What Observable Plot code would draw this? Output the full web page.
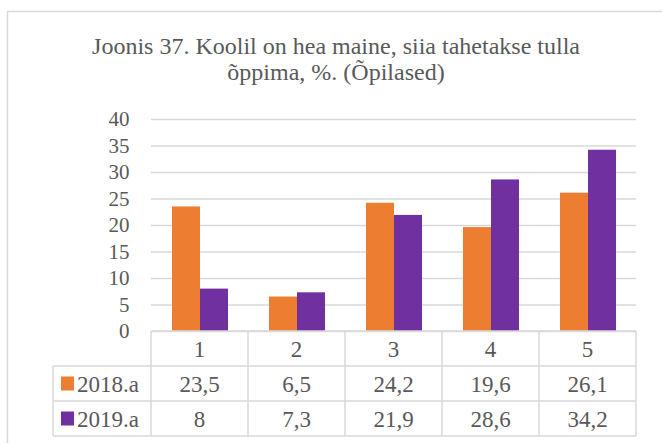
<!DOCTYPE html>
<html><head><meta charset="utf-8">
<script src="https://cdn.jsdelivr.net/npm/d3@7"></script>
<script src="https://cdn.jsdelivr.net/npm/@observablehq/plot@0.6"></script>
<style>
body{margin:0;background:#fff}
#chart{position:relative;width:662px;height:443px;overflow:hidden}
</style>
</head><body><div id="chart"></div>
<script>
const categories = ["1","2","3","4","5"];
const series = ["2018.a","2019.a"];
const values2018 = [23.5,6.5,24.2,19.6,26.1];
const values2019 = [8,7.3,21.9,28.6,34.2];
const yTicks = [0,5,10,15,20,25,30,35,40];
const colors = ["#ED7D31","#7030A0"];
const titleLines = ["Joonis 37. Koolil on hea maine, siia tahetakse tulla","õppima, %. (Õpilased)"];

const valuesBySeries = [values2018, values2019];
const data = categories.flatMap((c,i)=>series.map((s,j)=>({cat:c, series:s, value:valuesBySeries[j][i]})));
const fmt = v => String(v).replace(".", ",");

// pick an installed serif font
const ctx = document.createElement("canvas").getContext("2d");
function available(name) {
  const s = "Joonis 37. Koolil on hea maine";
  ctx.font = "40px monospace"; const a = ctx.measureText(s).width;
  ctx.font = `40px "${name}", monospace`; const b = ctx.measureText(s).width;
  return Math.abs(a - b) > 0.5;
}
const candidates = ["Liberation Serif", "Times New Roman", "Tinos", "DejaVu Serif", "Noto Serif"];
const chosen = candidates.find(available);
const font = chosen ? `"${chosen}", serif` : "serif";
const textColor = "#595959";
const lineColor = "#d9d9d9";
const W = 662, H = 443;

const chart = Plot.plot({
  width: W, height: H,
  marginLeft: 150, marginRight: 26, marginTop: 119, marginBottom: 112,
  style: {fontFamily: font, fontSize: "21px", color: textColor, background: "#fff", overflow: "visible"},
  fx: {domain: categories, paddingInner: 0, paddingOuter: 0, axis: null, label: null},
  x: {domain: series, paddingInner: 0, paddingOuter: 0.68, axis: null, label: null},
  y: {domain: [0, 40], label: null},
  color: {domain: series, range: colors},
  marks: [
    Plot.gridY(yTicks, {stroke: lineColor, strokeOpacity: 1, strokeWidth: 1.5}),
    Plot.axisY(yTicks, {tickSize: 0, tickPadding: 22, fontSize: 21, fill: textColor, label: null, anchor: "left"}),
    Plot.barY(data, {fx: "cat", x: "series", y: "value", fill: "series"})
  ]
});

document.getElementById("chart").appendChild(chart);

const svg = d3.select(chart);
svg.attr("font-family", font).style("font-family", font);
const fx = chart.scale("fx");
const bw = fx.bandwidth;
const x0 = fx.apply(categories[0]);
const x1 = fx.apply(categories[categories.length-1]) + bw;

// outer chart border
svg.insert("rect", ":first-child")
  .attr("x", 7.5).attr("y", 11.5).attr("width", 700).attr("height", 500)
  .attr("fill", "#fff").attr("stroke", lineColor).attr("stroke-width", 1.5);

// title
const title = svg.append("text").attr("text-anchor", "middle")
  .style("font-family", font).attr("font-size", 24).attr("fill", textColor);
titleLines.forEach((t, i) => title.append("tspan").attr("x", 336).attr("y", 54 + i*26).text(t));

// data table
const rowTop = [331, 366, 401, 436];
const legendLeft = 53;
const g = svg.append("g").style("font-family", font).attr("font-size", 23).attr("fill", textColor);
const lines = g.append("g").attr("stroke", lineColor).attr("stroke-width", 1.5);
lines.append("line").attr("x1", x0).attr("x2", x1).attr("y1", rowTop[0]).attr("y2", rowTop[0]);
for (let r = 1; r < rowTop.length; r++) {
  lines.append("line").attr("x1", legendLeft).attr("x2", x1).attr("y1", rowTop[r]).attr("y2", rowTop[r]);
}
categories.forEach(c => {
  lines.append("line").attr("x1", fx.apply(c)).attr("x2", fx.apply(c)).attr("y1", rowTop[0]).attr("y2", rowTop[3]);
});
lines.append("line").attr("x1", x1).attr("x2", x1).attr("y1", rowTop[0]).attr("y2", rowTop[3]);
lines.append("line").attr("x1", legendLeft).attr("x2", legendLeft).attr("y1", rowTop[1]).attr("y2", rowTop[3]);

categories.forEach(c => {
  g.append("text").attr("x", fx.apply(c) + bw/2).attr("y", (rowTop[0]+rowTop[1])/2)
    .attr("dy", "0.35em").attr("text-anchor", "middle").text(c);
});
series.forEach((s, j) => {
  const ymid = (rowTop[j+1] + rowTop[j+2]) / 2;
  g.append("rect").attr("x", 61).attr("y", ymid - 7).attr("width", 13).attr("height", 14).attr("fill", colors[j]);
  g.append("text").attr("x", 77).attr("y", ymid).attr("dy", "0.35em").attr("text-anchor", "start").text(s);
  categories.forEach((c, i) => {
    g.append("text").attr("x", fx.apply(c) + bw/2).attr("y", ymid).attr("dy", "0.35em")
      .attr("text-anchor", "middle").text(fmt(valuesBySeries[j][i]));
  });
});
</script>
</body></html>
